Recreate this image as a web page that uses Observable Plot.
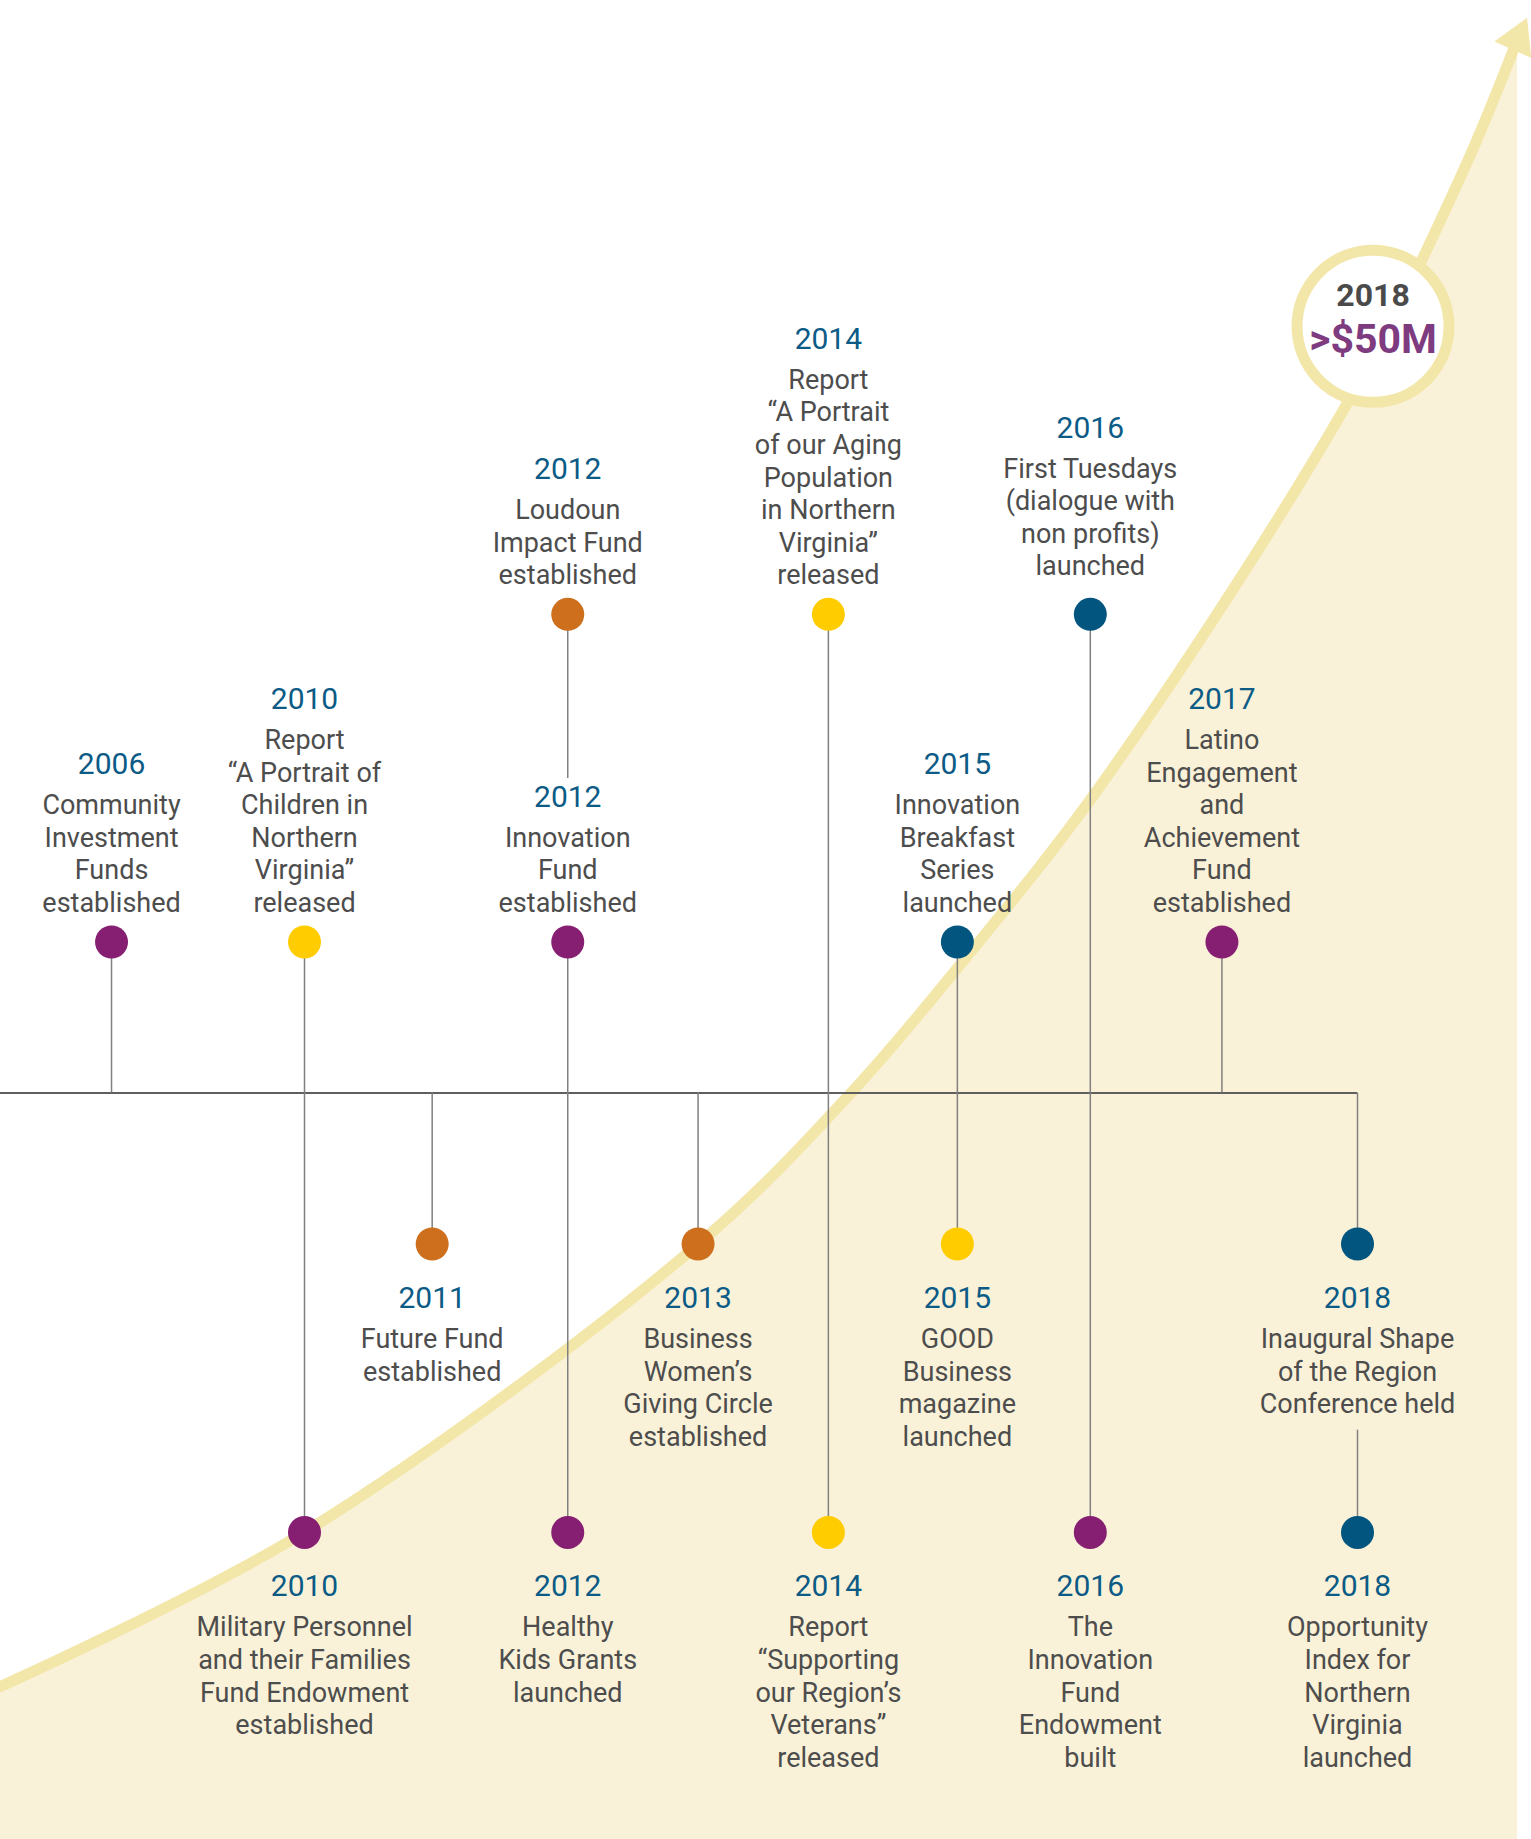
<!DOCTYPE html>
<html><head><meta charset="utf-8">
<script src="https://cdn.jsdelivr.net/npm/d3@7"></script>
<script src="https://cdn.jsdelivr.net/npm/@observablehq/plot@0.6"></script>
<style>
html,body{margin:0;padding:0;background:#fff;overflow:hidden;}
svg{display:block;overflow:hidden;}
</style></head><body>
<script>
// ---- timeline columns (slot = position along the timeline; 2006 sits before a gap) ----
const columns     = [2006, 2010, 2011, 2012, 2013, 2014, 2015, 2016, 2017, 2018];
const columnSlots = [-0.466, 1, 1.97, 3.0, 3.99, 4.98, 5.96, 6.97, 7.97, 9];
const levels = {top: -3.17, upper: -1, axis: 0, lower: 1, bottom: 2.91};

// ---- events ----
const eventYears  = [2006, 2010, 2010, 2011, 2012, 2012, 2012, 2013, 2014, 2014, 2015, 2015, 2016, 2016, 2017, 2018, 2018];
const eventLevels = ["upper","upper","bottom","lower","top","upper","bottom","lower","top","bottom","upper","lower","top","bottom","upper","lower","bottom"];
const eventColors = ["purple","yellow","purple","orange","orange","purple","purple","orange","yellow","yellow","blue","yellow","blue","purple","purple","blue","blue"];
const eventTexts = [
  "Community\nInvestment\nFunds\nestablished",
  "Report\n“A Portrait of\nChildren in\nNorthern\nVirginia”\nreleased",
  "Military Personnel\nand their Families\nFund Endowment\nestablished",
  "Future Fund\nestablished",
  "Loudoun\nImpact Fund\nestablished",
  "Innovation\nFund\nestablished",
  "Healthy\nKids Grants\nlaunched",
  "Business\nWomen’s\nGiving Circle\nestablished",
  "Report\n“A Portrait\nof our Aging\nPopulation\nin Northern\nVirginia”\nreleased",
  "Report\n“Supporting\nour Region’s\nVeterans”\nreleased",
  "Innovation\nBreakfast\nSeries\nlaunched",
  "GOOD\nBusiness\nmagazine\nlaunched",
  "First Tuesdays\n(dialogue with\nnon profits)\nlaunched",
  "The\nInnovation\nFund\nEndowment\nbuilt",
  "Latino\nEngagement\nand\nAchievement\nFund\nestablished",
  "Inaugural Shape\nof the Region\nConference held",
  "Opportunity\nIndex for\nNorthern\nVirginia\nlaunched"
];

// ---- connector stems ----
const stemYears = [2006, 2010, 2011, 2012, 2012, 2013, 2014, 2015, 2016, 2017, 2018, 2018];
const stemFrom  = ["upper","upper","axis","top","upper","axis","top","upper","top","upper","axis","lower"];
const stemTo    = ["axis","bottom","lower","upper","bottom","lower","bottom","lower","bottom","axis","lower","bottom"];
const stemClear = ["", "", "", "end", "", "", "", "", "", "", "", "start"];

// ---- growth curve (slot units, level units) ----
const growthCol = [-1.310, 1.0, 3.993, 5.148, 5.961, 7.070, 8.924, 9.805, 10.216];
const growthRow = [3.931, 2.908, 1.0, 0.003, -0.828, -2.063, -4.571, -6.109, -6.980];
const floorRow = 5.2;

// ---- milestone ----
const milestoneYear = "2018";
const milestoneValue = ">$50M";
const milestoneCol = 9.118;
const milestoneRow = -5.077;

// ---- styling / layout ----
const palette = {purple: "#861f71", yellow: "#ffcc00", orange: "#cd6f1d", blue: "#01557f"};
const FONT = "Roboto";
const FS = 27, LH = 32.6, YFS = 30;
const lhEm = LH / FS;
const yearColor = "#0b5b86", textColor = "#4d4d4d";
const band = "#f3e6a9", cream = "#faf2d8";
const extraLift = {"2016-top": 9};

const slotOf = y => columnSlots[columns.indexOf(y)];
const events = eventYears.map((y, i) => ({
  year: String(y), col: slotOf(y), level: levels[eventLevels[i]], levelName: eventLevels[i],
  color: eventColors[i], text: eventTexts[i], n: eventTexts[i].split("\n").length
}));
const growth = growthCol.map((c, i) => ({col: c, row: growthRow[i]}));
const milestone = [{col: milestoneCol, row: milestoneRow, year: milestoneYear, value: milestoneValue}];

const above = events.filter(e => e.level < 0);
const below = events.filter(e => e.level > 0);

const marks = [];
marks.push(Plot.areaY(growth, {x: "col", y1: floorRow, y2: "row", curve: "catmull-rom", fill: cream}));
marks.push(Plot.line(growth, {x: "col", y: "row", curve: "catmull-rom", stroke: band, strokeWidth: 11}));
marks.push(Plot.dot([growth[growth.length - 1]], {x: "col", y: "row", symbol: "triangle", r: 15, rotate: 24, fill: band, stroke: "none"}));

// axis line
marks.push(Plot.ruleY([levels.axis], {x1: growthCol[0], x2: slotOf(2018), stroke: "#5f5f5f", strokeWidth: 2}));

// stems
stemYears.forEach((y, i) => {
  const opts = {x: "col", y1: "y1", y2: "y2", stroke: "#808080", strokeWidth: 1.5};
  if (stemClear[i] === "end") {
    const ev = events.find(e => e.year === String(y) && e.level === levels[stemTo[i]]);
    opts.insetBottom = 30 + (ev.n - 1) * LH + 40 + 0.711 * YFS + 7;
  } else if (stemClear[i] === "start") {
    const ev = events.find(e => e.year === String(y) && e.level === levels[stemFrom[i]]);
    opts.insetTop = 104 + (ev.n - 1) * LH + 17;
  }
  marks.push(Plot.ruleX([{col: slotOf(y), y1: levels[stemFrom[i]], y2: levels[stemTo[i]]}], opts));
});

// dots
marks.push(Plot.dot(events, {x: "col", y: "level", r: 16.5, fill: d => palette[d.color], stroke: "none"}));

// texts above the dots
above.forEach(e => {
  const lift = extraLift[`${e.year}-${e.levelName}`] || 0;
  marks.push(Plot.text([e], {x: "col", y: "level", text: "text", lineAnchor: "bottom", lineHeight: lhEm, dy: -30 - lift,
    fontSize: FS, fontFamily: FONT, fill: textColor}));
  marks.push(Plot.text([e], {x: "col", y: "level", text: "year", lineAnchor: "bottom", dy: -30 - lift - (e.n - 1) * LH - 40,
    fontSize: YFS, fontFamily: FONT, fill: yearColor}));
});

// texts below the dots
marks.push(Plot.text(below, {x: "col", y: "level", text: "text", lineAnchor: "top", lineHeight: lhEm, dy: 104 - 0.71 * LH,
  fontSize: FS, fontFamily: FONT, fill: textColor}));
marks.push(Plot.text(below, {x: "col", y: "level", text: "year", lineAnchor: "bottom", dy: 64,
  fontSize: YFS, fontFamily: FONT, fill: yearColor}));

// milestone circle
marks.push(Plot.dot(milestone, {x: "col", y: "row", r: 76, fill: "white", stroke: band, strokeWidth: 11}));
marks.push(Plot.text(milestone, {x: "col", y: "row", text: "year", lineAnchor: "bottom", dy: -20,
  fontSize: 32, fontWeight: "bold", fontFamily: FONT, fill: "#4a4a4a"}));
marks.push(Plot.text(milestone, {x: "col", y: "row", text: "value", lineAnchor: "bottom", dy: 27,
  fontSize: 41, fontWeight: "bold", fontFamily: FONT, fill: "#7e3b80"}));

const chart = Plot.plot({
  width: 1531, height: 1839,
  marginTop: 0, marginRight: 0, marginBottom: 0, marginLeft: 0,
  style: {background: "white", overflow: "hidden"},
  x: {domain: [1, 9], range: [304, 1357], axis: null},
  y: {domain: [-1, 1], range: [941.5, 1243.5], axis: null},
  marks
});
document.body.appendChild(chart);
</script>
</body></html>
